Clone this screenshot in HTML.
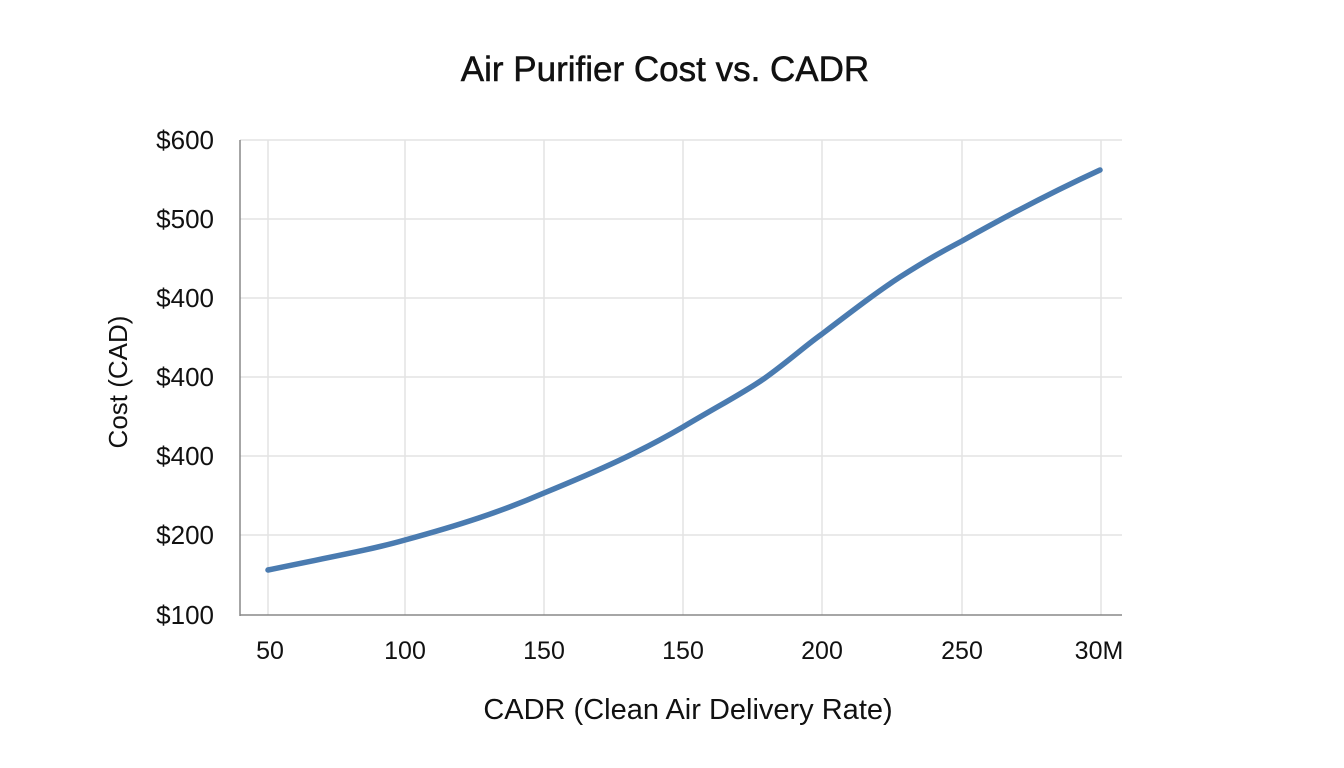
<!DOCTYPE html>
<html><head><meta charset="utf-8"><style>
html,body{margin:0;padding:0;background:#fff;}
svg{display:block;}
text{font-family:"Liberation Sans",Arial,sans-serif;fill:#111;}
</style></head><body>
<svg width="1344" height="768" viewBox="0 0 1344 768">
<rect width="1344" height="768" fill="#fff"/>
<text x="665" y="81" font-size="35" text-anchor="middle" stroke="#111" stroke-width="0.5">Air Purifier Cost vs. CADR</text>
<g stroke="#e3e3e3" stroke-width="1.5">
<line x1="240" y1="140" x2="1122" y2="140"/>
<line x1="240" y1="219" x2="1122" y2="219"/>
<line x1="240" y1="298" x2="1122" y2="298"/>
<line x1="240" y1="377" x2="1122" y2="377"/>
<line x1="240" y1="456" x2="1122" y2="456"/>
<line x1="240" y1="535" x2="1122" y2="535"/>
<line x1="268" y1="140" x2="268" y2="615"/>
<line x1="405" y1="140" x2="405" y2="615"/>
<line x1="544" y1="140" x2="544" y2="615"/>
<line x1="683" y1="140" x2="683" y2="615"/>
<line x1="822" y1="140" x2="822" y2="615"/>
<line x1="962" y1="140" x2="962" y2="615"/>
<line x1="1101" y1="140" x2="1101" y2="615"/>
</g>
<line x1="240" y1="140" x2="240" y2="616" stroke="#888" stroke-width="1.5"/>
<line x1="240" y1="615" x2="1122" y2="615" stroke="#888" stroke-width="1.5"/>
<g font-size="26" text-anchor="end">
<text x="214" y="149">$600</text>
<text x="214" y="228">$500</text>
<text x="214" y="307">$400</text>
<text x="214" y="386">$400</text>
<text x="214" y="465">$400</text>
<text x="214" y="544">$200</text>
<text x="214" y="624">$100</text>
</g>
<g font-size="25" text-anchor="middle">
<text x="270" y="659">50</text>
<text x="405" y="659">100</text>
<text x="544" y="659">150</text>
<text x="683" y="659">150</text>
<text x="822" y="659">200</text>
<text x="962" y="659">250</text>
<text x="1099" y="659">30M</text>
</g>
<text x="688" y="719" font-size="29" text-anchor="middle">CADR (Clean Air Delivery Rate)</text>
<text transform="translate(127,382) rotate(-90)" font-size="26" text-anchor="middle">Cost (CAD)</text>
<path d="M268,570 C330,557 370,550 405,540 C460,525 500,512 544,493 C600,470 640,452 683,427 C720,405 745,392 765,378 C790,360 805,346 822,334 C860,305 880,290 900,277 C930,258 945,250 962,241 C1010,214 1050,193 1100,170" fill="none" stroke="#4a7bb0" stroke-width="5.5" stroke-linecap="round"/>
</svg>
</body></html>
